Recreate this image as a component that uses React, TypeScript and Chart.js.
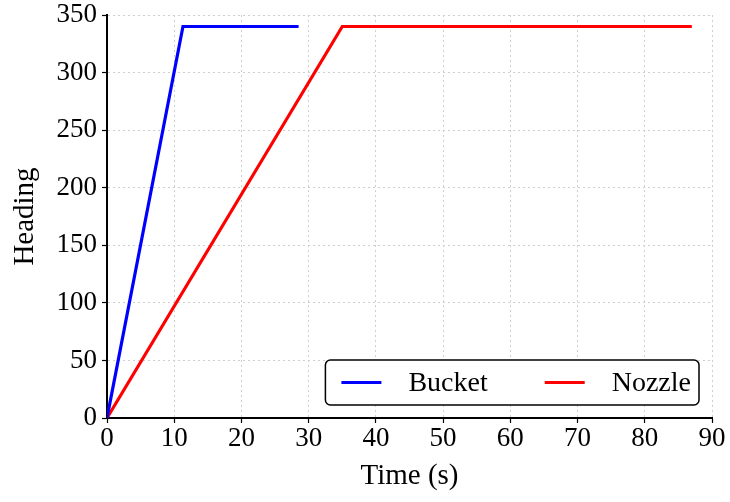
import { useEffect, useRef } from "react";
import { Chart, registerables } from "chart.js";

Chart.register(...registerables);

// Heading versus time for the two parts
const bucketTime = [0, 11.3, 28.5];
const bucketHeading = [0, 340, 340];
const nozzleTime = [0, 35, 87];
const nozzleHeading = [0, 340, 340];

const seriesNames = ["Bucket", "Nozzle"];
const seriesColors = ["#0000ff", "#ff0000"];

const xTitle = "Time (s)";
const yTitle = "Heading";
const xRange = [0, 90];
const yRange = [0, 350];
const xStep = 10;
const yStep = 50;

const FONT = "'Liberation Serif', 'Times New Roman', serif";

const toPoints = (xs: number[], ys: number[]) => xs.map((x, i) => ({ x, y: ys[i] }));

// Boxed legend in the lower right corner of the plot area
const boxedLegend = {
  id: "boxedLegend",
  afterDatasetsDraw(chart: any) {
    const { ctx, chartArea } = chart;
    const datasets = chart.data.datasets;
    ctx.save();
    ctx.font = `28px ${FONT}`;
    const padL = 16;
    const lineLen = 40;
    const lineGap = 27;
    const itemGap = 57;
    const padR = 8;
    const widths = datasets.map((d: any) => ctx.measureText(d.label).width);
    let boxW = padL + padR;
    widths.forEach((w: number, i: number) => {
      boxW += lineLen + lineGap + w + (i > 0 ? itemGap : 0);
    });
    const boxH = 45;
    const right = chartArea.right - 13;
    const bottom = chartArea.bottom - 13;
    const left = right - boxW;
    const top = bottom - boxH;

    ctx.beginPath();
    ctx.roundRect(left, top, boxW, boxH, 5);
    ctx.fillStyle = "#ffffff";
    ctx.fill();
    ctx.lineWidth = 1.5;
    ctx.strokeStyle = "#000000";
    ctx.stroke();

    const cy = top + boxH / 2;
    let x = left + padL;
    datasets.forEach((d: any, i: number) => {
      if (i > 0) x += itemGap;
      ctx.beginPath();
      ctx.moveTo(x, cy);
      ctx.lineTo(x + lineLen, cy);
      ctx.lineWidth = 3;
      ctx.strokeStyle = d.borderColor;
      ctx.stroke();
      x += lineLen + lineGap;
      ctx.fillStyle = "#000000";
      ctx.textBaseline = "middle";
      ctx.textAlign = "left";
      ctx.fillText(d.label, x, cy + 1);
      x += widths[i];
    });
    ctx.restore();
  },
};

export default function App() {
  const canvasRef = useRef<HTMLCanvasElement | null>(null);

  useEffect(() => {
    const canvas = canvasRef.current;
    if (!canvas) return;

    const axisCommon = {
      border: { display: true, color: "#000000", width: 2, dash: [2, 3] },
      grid: {
        color: "#cfcfcf",
        lineWidth: 1,
        drawTicks: true,
        tickLength: 5,
        tickColor: "#000000",
        tickWidth: 1.2,
        tickBorderDash: [],
      },
    };

    const chart = new Chart(canvas, {
      type: "line",
      data: {
        datasets: [
          {
            label: seriesNames[0],
            data: toPoints(bucketTime, bucketHeading),
            borderColor: seriesColors[0],
            backgroundColor: seriesColors[0],
            borderWidth: 3.2,
            pointRadius: 0,
            tension: 0,
            fill: false,
          },
          {
            label: seriesNames[1],
            data: toPoints(nozzleTime, nozzleHeading),
            borderColor: seriesColors[1],
            backgroundColor: seriesColors[1],
            borderWidth: 3.2,
            pointRadius: 0,
            tension: 0,
            fill: false,
          },
        ],
      },
      options: {
        responsive: false,
        animation: false,
        layout: { padding: { left: 0, right: 18, top: 15, bottom: 0 } },
        plugins: {
          legend: { display: false },
          tooltip: { enabled: false },
        },
        scales: {
          x: {
            type: "linear",
            min: xRange[0],
            max: xRange[1],
            ...axisCommon,
            ticks: {
              stepSize: xStep,
              color: "#000000",
              padding: 2,
              maxRotation: 0,
              font: { family: FONT, size: 27, lineHeight: 1 },
            },
            title: {
              display: true,
              text: xTitle,
              color: "#000000",
              padding: { top: 0, bottom: 8 },
              font: { family: FONT, size: 29 },
            },
            afterFit(scale: any) {
              scale.height = 84;
              scale.paddingLeft = 0;
              scale.paddingRight = 0;
            },
          },
          y: {
            type: "linear",
            min: yRange[0],
            max: yRange[1],
            ...axisCommon,
            ticks: {
              stepSize: yStep,
              color: "#000000",
              padding: 5,
              font: { family: FONT, size: 27, lineHeight: 1 },
            },
            title: {
              display: true,
              text: yTitle,
              color: "#000000",
              padding: { top: 8, bottom: 0 },
              font: { family: FONT, size: 29 },
            },
            afterFit(scale: any) {
              scale.width = 107;
              scale.paddingTop = 0;
              scale.paddingBottom = 0;
            },
          },
        },
      },
      plugins: [boxedLegend],
    });

    return () => chart.destroy();
  }, []);

  return (
    <div style={{ position: "absolute", left: 0, top: 0, width: 730, height: 502, background: "#ffffff" }}>
      <canvas ref={canvasRef} width={730} height={502} style={{ display: "block" }} />
    </div>
  );
}
